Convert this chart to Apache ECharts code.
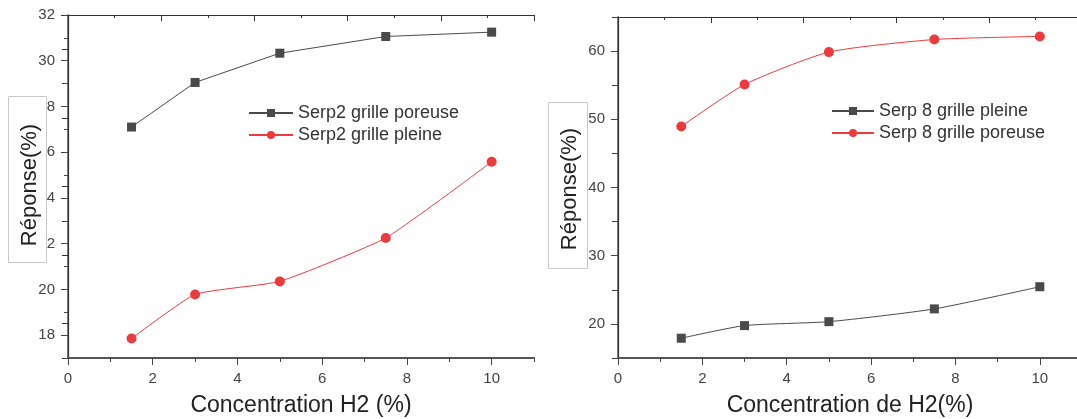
<!DOCTYPE html>
<html>
<head>
<meta charset="utf-8">
<script src="https://cdn.jsdelivr.net/npm/echarts@6/dist/echarts.min.js"></script>
<style>html,body{margin:0;padding:0;background:#fff}#c{width:1077px;height:419px}</style>
</head>
<body>
<div id="c"></div>
<script>
// ---- data ----
const concentrations = [1.5, 3, 5, 7.5, 10];
const serp2Poreuse = [27.1, 29.05, 30.33, 31.06, 31.25];
const serp2Pleine = [17.85, 19.78, 20.35, 22.25, 25.58];
const serp8Pleine = [17.9, 19.75, 20.33, 22.2, 25.45];
const serp8Poreuse = [48.95, 55.1, 59.85, 61.7, 62.15];
const xTickLabels = [0, 2, 4, 6, 8, 10];
const yTicksLeft = [18, 20, 22, 24, 26, 28, 30, 32];
const yTicksRight = [20, 30, 40, 50, 60];
const names = {
  l1: 'Serp2 grille poreuse', l2: 'Serp2 grille pleine',
  r1: 'Serp 8 grille pleine', r2: 'Serp 8 grille poreuse'
};
const xTitleLeft = 'Concentration H2 (%)';
const xTitleRight = 'Concentration de H2(%)';
const yTitle = 'Réponse(%)';

const FONT = "'Liberation Sans', Arial, sans-serif";
const BLACK = '#4a4a4a', RED = '#ec3a3e';
const pair = (xs, ys) => xs.map((x, i) => [x, ys[i]]);

const chart = echarts.init(document.getElementById('c'));

function majorX(grid, name) {
  return {
    gridIndex: grid, type: 'value', position: 'bottom', min: 0, max: 11,
    name: name, nameLocation: 'middle', nameGap: 36,
    nameTextStyle: { fontFamily: FONT, fontSize: 23, color: '#222' },
    axisLine: { show: true, lineStyle: { color: '#555', width: 2 } },
    axisTick: { show: true, inside: false, length: 7, customValues: xTickLabels, lineStyle: { color: '#444', width: 1 } },
    axisLabel: { show: true, customValues: xTickLabels, margin: 13, fontFamily: FONT, fontSize: 15, color: '#444' },
    splitLine: { show: false }
  };
}
function minorX(grid) {
  return {
    gridIndex: grid, type: 'value', position: 'bottom', min: 0, max: 11, interval: 1,
    axisLine: { show: false }, axisLabel: { show: false },
    axisTick: { show: true, inside: false, length: 4, lineStyle: { color: '#444', width: 1 } },
    splitLine: { show: false }
  };
}
function topX(grid) {
  return {
    gridIndex: grid, type: 'value', position: 'top', min: 0, max: 10, interval: 2,
    axisLine: { show: true, lineStyle: { color: '#333', width: 1.2 } },
    axisLabel: { show: false },
    axisTick: { show: true, inside: true, length: 6, lineStyle: { color: '#333' } },
    minorTick: { show: true, splitNumber: 2, length: 3, lineStyle: { color: '#333' } },
    splitLine: { show: false }
  };
}
function majorY(grid, min, max, ticks) {
  return {
    gridIndex: grid, type: 'value', position: 'left', min: min, max: max,
    axisLine: { show: true, lineStyle: { color: '#555', width: 1.5 } },
    axisTick: { show: true, inside: false, length: 7, customValues: ticks, lineStyle: { color: '#444' } },
    axisLabel: { show: true, customValues: ticks, margin: 13, fontFamily: FONT, fontSize: 15, color: '#444' },
    splitLine: { show: false }
  };
}
function minorY(grid, min, max, interval) {
  return {
    gridIndex: grid, type: 'value', position: 'left', min: min, max: max, interval: interval,
    axisLine: { show: false }, axisLabel: { show: false },
    axisTick: { show: true, inside: false, length: 4, lineStyle: { color: '#444' } },
    splitLine: { show: false }
  };
}
function rightY(grid, max) {
  return {
    gridIndex: grid, type: 'value', position: 'right', min: 0, max: max, interval: 1,
    axisLine: { show: true, lineStyle: { color: '#333', width: 1.2 } },
    axisLabel: { show: false },
    axisTick: { show: true, inside: true, length: 6, lineStyle: { color: '#333' } },
    splitLine: { show: false }
  };
}
function lineSeries(name, xi, yi, data, color, symbol, size, smooth) {
  return {
    name: name, type: 'line', xAxisIndex: xi, yAxisIndex: yi, data: data,
    symbol: symbol, symbolSize: size, smooth: smooth,
    lineStyle: { color: color, width: 1 },
    itemStyle: { color: color },
    z: 5
  };
}
function gridBox(left, top, width, height) {
  return { left: left, top: top, width: width, height: height, containLabel: false, outerBoundsMode: 'none' };
}

const option = {
  animation: false,
  backgroundColor: '#fff',
  grid: [
    gridBox(68, 15, 466, 343),
    gridBox(68, 15, 466, 343),
    gridBox(618, 17, 464, 341),
    gridBox(618, 17, 464, 341)
  ],
  xAxis: [
    majorX(0, xTitleLeft), topX(0), minorX(1),
    majorX(2, xTitleRight), topX(2), minorX(3)
  ],
  yAxis: [
    majorY(0, 17, 32, yTicksLeft), rightY(0, 10), minorY(1, 17, 32, 1),
    majorY(2, 15, 65, yTicksRight), rightY(2, 5), minorY(3, 15, 65, 5)
  ],
  legend: [
    {
      left: 243, top: 99, orient: 'vertical', itemWidth: 44, itemHeight: 10, itemGap: 4,
      data: [names.l1, names.l2],
      textStyle: { fontFamily: FONT, fontSize: 18, color: '#333', lineHeight: 18 }
    },
    {
      left: 826, top: 97, orient: 'vertical', itemWidth: 42, itemHeight: 10, itemGap: 4,
      data: [names.r1, names.r2],
      textStyle: { fontFamily: FONT, fontSize: 18, color: '#333', lineHeight: 18 }
    }
  ],
  series: [
    lineSeries(names.l1, 0, 0, pair(concentrations, serp2Poreuse), BLACK, 'rect', 9, false),
    lineSeries(names.l2, 0, 0, pair(concentrations, serp2Pleine), RED, 'circle', 10, 0.15),
    lineSeries(names.r1, 3, 3, pair(concentrations, serp8Pleine), BLACK, 'rect', 9, 0.2),
    lineSeries(names.r2, 3, 3, pair(concentrations, serp8Poreuse), RED, 'circle', 10, 0.2)
  ],
  graphic: [
    { type: 'rect', z: 100, shape: { x: 8.5, y: 96.5, width: 38, height: 166 },
      style: { fill: '#fff', stroke: '#c8c8c8', lineWidth: 1 } },
    { type: 'text', z: 101, x: 30, y: 185, rotation: Math.PI / 2,
      style: { text: yTitle, fontFamily: FONT, fontSize: 22, fill: '#222', align: 'center', verticalAlign: 'middle' } },
    { type: 'rect', z: 100, shape: { x: 548.5, y: 102.5, width: 39, height: 166 },
      style: { fill: '#fff', stroke: '#c8c8c8', lineWidth: 1 } },
    { type: 'text', z: 101, x: 570, y: 189, rotation: Math.PI / 2,
      style: { text: yTitle, fontFamily: FONT, fontSize: 22, fill: '#222', align: 'center', verticalAlign: 'middle' } }
  ]
};
chart.setOption(option);
</script>
</body>
</html>
